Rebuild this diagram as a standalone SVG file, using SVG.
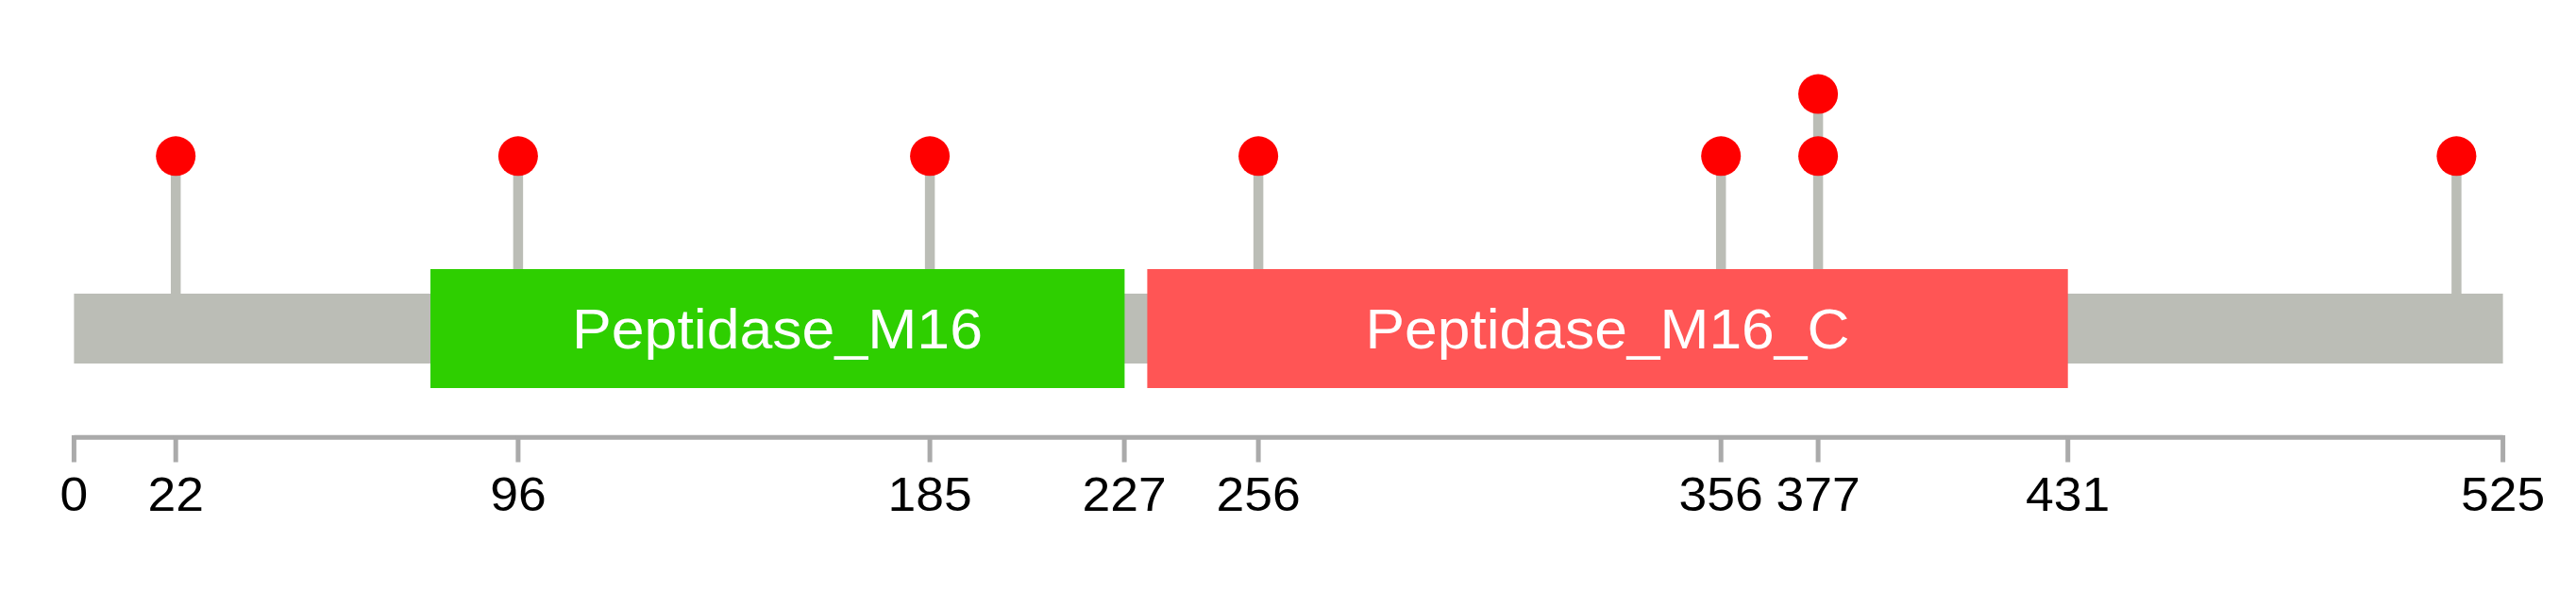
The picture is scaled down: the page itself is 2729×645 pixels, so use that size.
<svg xmlns="http://www.w3.org/2000/svg" width="2729" height="645" viewBox="0 0 2729 645">
<style>
.stem{stroke:#BBBDB6;stroke-width:10.5;}
.dot{fill:#FF0000;}
.axis{stroke:#AAAAAA;stroke-width:5;fill:none;}
.tick{font-family:"Liberation Sans",Arial,sans-serif;font-size:50px;fill:#000;text-anchor:middle;}
.dlabel{font-family:"Liberation Sans",Arial,sans-serif;font-size:60px;fill:#FFFFFF;text-anchor:middle;}
</style>
<rect width="2729" height="645" fill="#FFFFFF"/>
<g id="connectors">
<line class="stem" x1="186.2" y1="165" x2="186.2" y2="312"/>
<line class="stem" x1="548.9" y1="165" x2="548.9" y2="286"/>
<line class="stem" x1="985.1" y1="165" x2="985.1" y2="286"/>
<line class="stem" x1="1333.1" y1="165" x2="1333.1" y2="286"/>
<line class="stem" x1="1823.2" y1="165" x2="1823.2" y2="286"/>
<line class="stem" x1="1926.1" y1="99" x2="1926.1" y2="286"/>
<line class="stem" x1="2602.4" y1="165" x2="2602.4" y2="312"/>
</g>
<g id="backbone"><rect x="78.4" y="311" width="2573.2" height="74" fill="#BBBDB6"/></g>
<g id="domain-Peptidase_M16">
<rect x="456" y="285" width="735.4" height="126" fill="#2ECF00"/>
<text class="dlabel" x="823.5" y="369" textLength="435" lengthAdjust="spacingAndGlyphs">Peptidase_M16</text>
</g>
<g id="domain-Peptidase_M16_C">
<rect x="1215.4" y="285" width="975.3" height="126" fill="#FF5555"/>
<text class="dlabel" x="1703" y="369" textLength="513" lengthAdjust="spacingAndGlyphs">Peptidase_M16_C</text>
</g>
<g id="mutations">
<circle class="dot" cx="186.2" cy="165.3" r="21"/>
<circle class="dot" cx="548.9" cy="165.3" r="21"/>
<circle class="dot" cx="985.1" cy="165.3" r="21"/>
<circle class="dot" cx="1333.1" cy="165.3" r="21"/>
<circle class="dot" cx="1823.2" cy="165.3" r="21"/>
<circle class="dot" cx="1926.1" cy="165.3" r="21"/>
<circle class="dot" cx="1926.1" cy="99.6" r="21"/>
<circle class="dot" cx="2602.4" cy="165.3" r="21"/>
</g>
<g id="axis">
<line class="axis" x1="78.4" y1="463.3" x2="2651.6" y2="463.3"/>
<path class="axis" d="M78.4 461V489.5M186.2 461V489.5M548.9 461V489.5M985.1 461V489.5M1191.1 461V489.5M1333.1 461V489.5M1823.2 461V489.5M1926.1 461V489.5M2190.7 461V489.5M2651.6 461V489.5"/>
<text class="tick" x="78.4" y="541" textLength="29.7" lengthAdjust="spacingAndGlyphs">0</text>
<text class="tick" x="186.2" y="541" textLength="59.5" lengthAdjust="spacingAndGlyphs">22</text>
<text class="tick" x="548.9" y="541" textLength="59.5" lengthAdjust="spacingAndGlyphs">96</text>
<text class="tick" x="985.1" y="541" textLength="89.2" lengthAdjust="spacingAndGlyphs">185</text>
<text class="tick" x="1191.1" y="541" textLength="89.2" lengthAdjust="spacingAndGlyphs">227</text>
<text class="tick" x="1333.1" y="541" textLength="89.2" lengthAdjust="spacingAndGlyphs">256</text>
<text class="tick" x="1823.2" y="541" textLength="89.2" lengthAdjust="spacingAndGlyphs">356</text>
<text class="tick" x="1926.1" y="541" textLength="89.2" lengthAdjust="spacingAndGlyphs">377</text>
<text class="tick" x="2190.7" y="541" textLength="89.2" lengthAdjust="spacingAndGlyphs">431</text>
<text class="tick" x="2651.6" y="541" textLength="89.2" lengthAdjust="spacingAndGlyphs">525</text>
</g>
</svg>
